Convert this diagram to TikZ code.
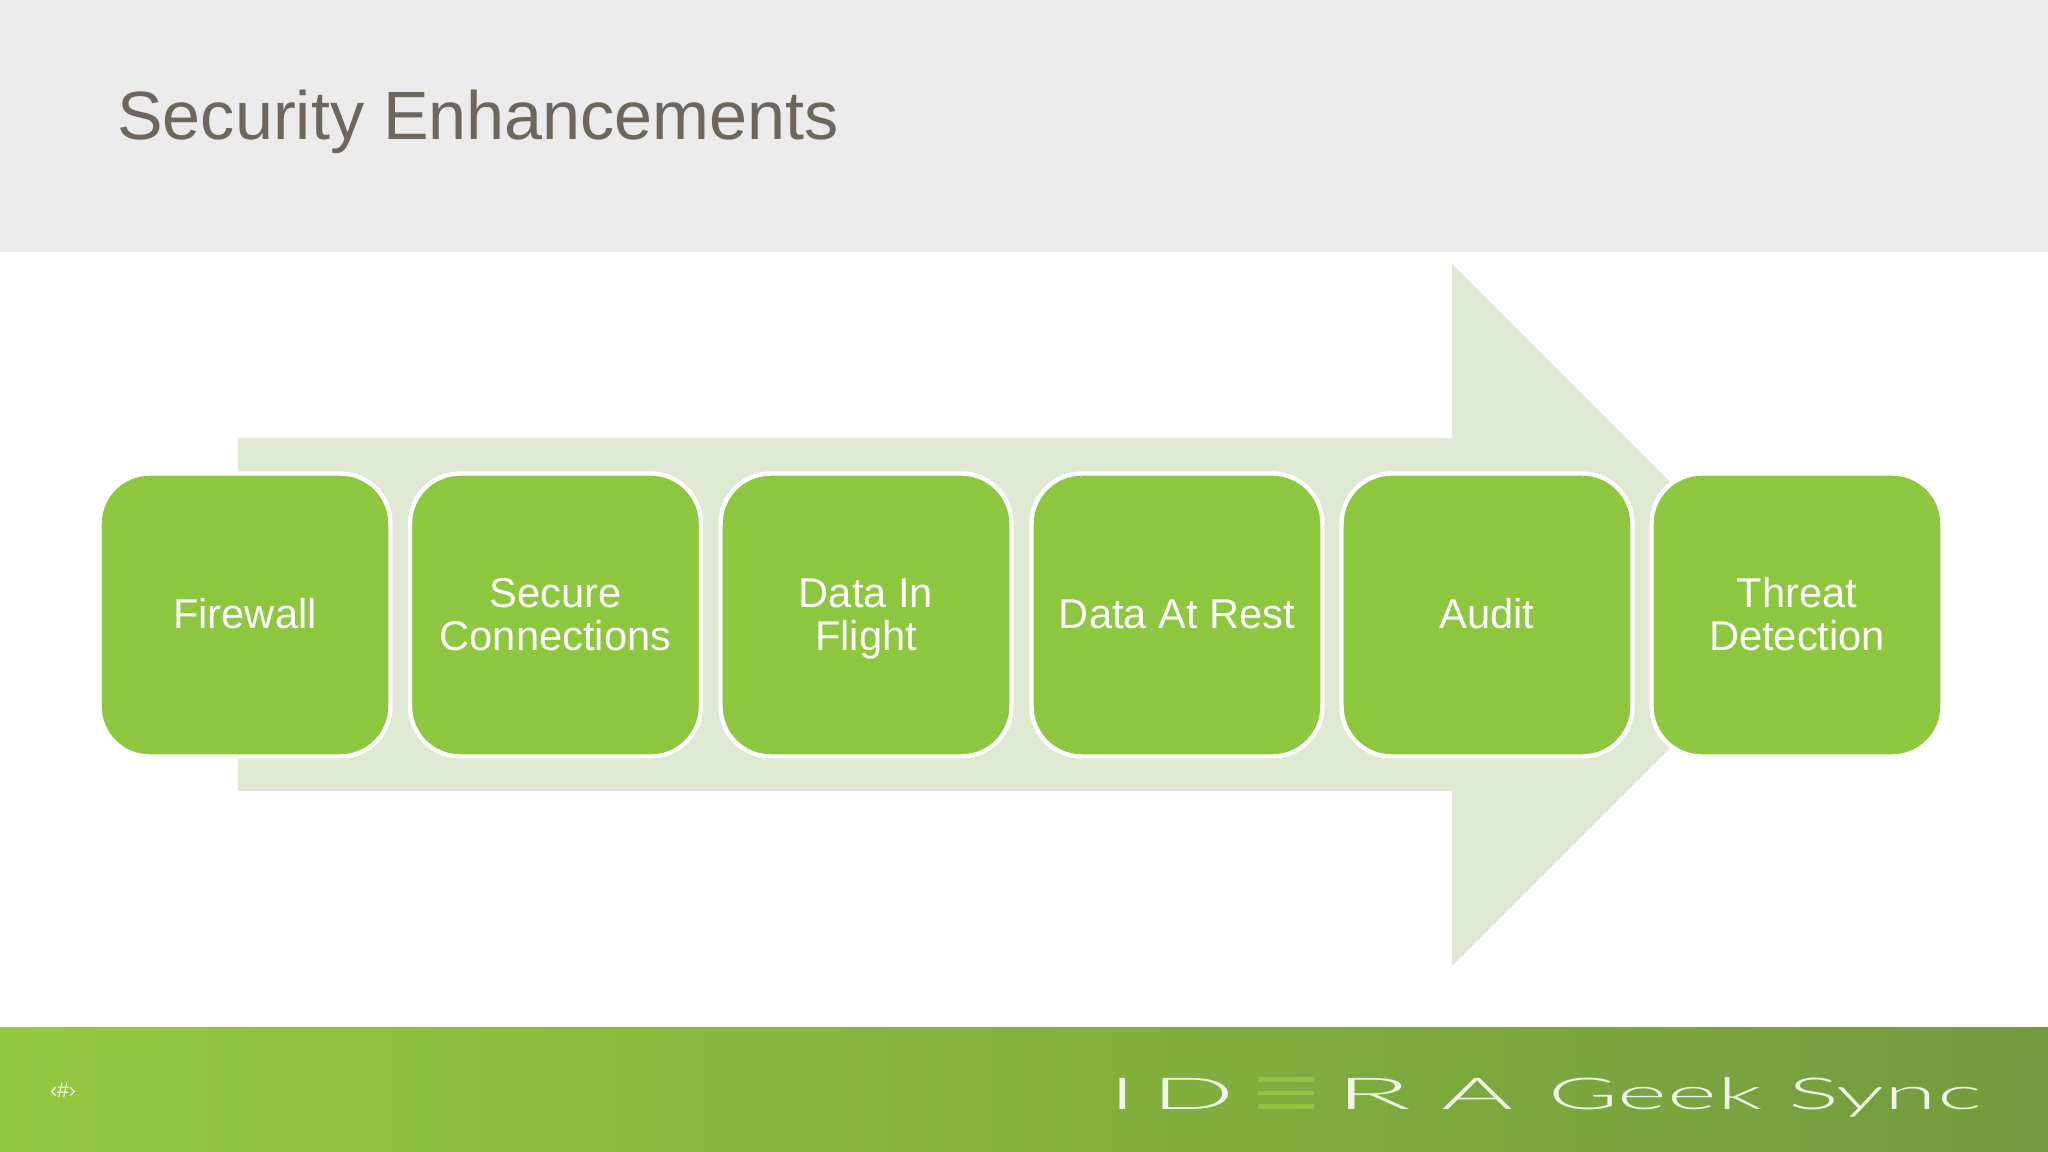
\documentclass[tikz,border=0pt]{standalone}
\usepackage{fontspec}
\setmainfont{Liberation Sans}
\newfontfamily\logofont[UprightFont=* Light]{Lato}
\definecolor{headgray}{HTML}{ECEBEC}
\definecolor{titlegray}{HTML}{6D665C}
\definecolor{boxgreen}{HTML}{8DC63F}
\definecolor{arrowgreen}{HTML}{DEE8D2}
\definecolor{footleft}{HTML}{93C93F}
\definecolor{footright}{HTML}{739C3E}
\definecolor{barlight}{HTML}{8FC440}
\definecolor{logowhite}{HTML}{F1F7E6}
\tikzset{
  stepbox/.style={draw=white, line width=2.5pt, fill=boxgreen, rounded corners=1cm,
    minimum width=5.82cm, minimum height=5.66cm, outer sep=0pt, inner sep=0pt,
    text=white, align=center, font=\fontsize{23.7}{24.6}\selectfont},
  logoletter/.style={anchor=base west, inner sep=0pt, outer sep=0pt, text=logowhite},
  logobar/.style={fill=barlight}
}
\newcommand{\logotext}[2]{\scalebox{#1}[1]{\logofont\fontsize{25}{25}\selectfont #2}}

\begin{document}
\begin{tikzpicture}[x=.02cm, y=-.02cm]
    \useasboundingbox (0,0) rectangle (2048,1152);
    \fill[headgray] (0,0) rectangle (2048,252);
    \fill[left color=footleft, right color=footright] (0,1027) rectangle (2048,1152);
    % big arrow behind the boxes
    \fill[arrowgreen] (238,438) -- (1452,438) -- (1452,264) -- (1803,615) -- (1452,966) -- (1452,791) -- (238,791) -- cycle;
    \node[anchor=base west, inner sep=0pt, text=titlegray, font=\fontsize{38.9}{40}\selectfont] (title) at (117,140) {Security Enhancements};
    \foreach \x/\name/\lbl in {245/firewall/Firewall, 555.5/secure/{Secure\\Connections}, 866/inflight/{Data In\\Flight},
      1177/atrest/Data At Rest, 1487/audit/Audit, 1797/threat/{Threat\\Detection}}{
      \node[stepbox] (\name) at (\x,615) {\rule{0pt}{20.5pt}\lbl\vphantom{g}};
    }
    \node[text=white, inner sep=0pt, font=\fontsize{12}{12}\selectfont] (pagenum) at (63,1090) {‹\#›};
    % logo
    \node[logoletter] (logoi) at (1108,1109) {\logotext{2.5}{I}};
    \node[logoletter] (logod) at (1151,1109) {\logotext{2.5}{D}};
    \fill[logobar] (1258,1077) rectangle (1314,1082);
    \fill[logobar] (1258,1091) rectangle (1314,1095);
    \fill[logobar] (1258,1104) rectangle (1314,1109);
    \node[logoletter] (logor) at (1335,1109) {\logotext{2.85}{R}};
    \node[logoletter] (logoa) at (1441,1109) {\logotext{2.5}{A}};
    \node[logoletter] (logogs) at (1548,1109) {\logotext{2.17}{Geek Sync}};
  \end{tikzpicture}
\end{document}
